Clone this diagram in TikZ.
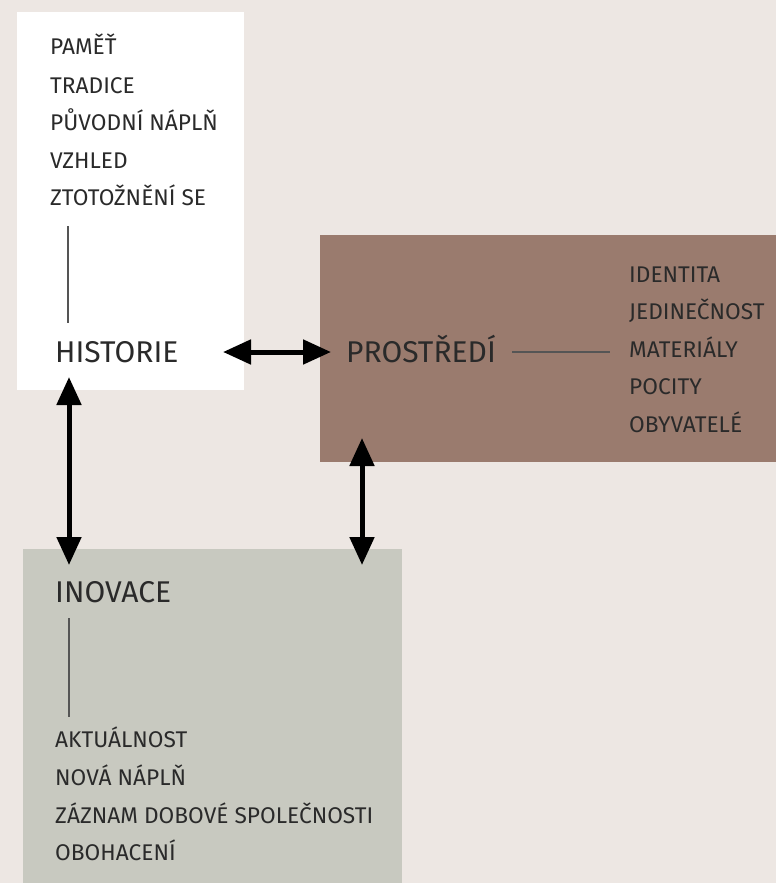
\documentclass[tikz,border=0pt]{standalone}
\usepackage{fontspec}
\setmainfont{Fira Sans}
\usetikzlibrary{arrows.meta}
\definecolor{bgc}{HTML}{EDE7E3}
\definecolor{brownc}{HTML}{9A7B6E}
\definecolor{greenc}{HTML}{C8C9C0}
\definecolor{txt}{HTML}{2A2A2A}
\tikzset{
  box/.style={draw=none,inner sep=0,anchor=north west},
  small/.style={anchor=base west,inner sep=0,text=txt,font=\fontsize{22.7}{22.7}\selectfont},
  big/.style={anchor=base west,inner sep=0,text=txt,font=\fontsize{30}{30}\selectfont},
  thin/.style={draw=txt!80,line width=1.2pt},
  dbl/.style={line width=5pt,{Triangle[length=28pt,width=24pt]}-{Triangle[length=28pt,width=24pt]}}
}
\begin{document}
\begin{tikzpicture}[x=1pt,y=-1pt]
\fill[bgc] (0,0) rectangle (776,883);
\useasboundingbox (0,0) rectangle (776,883);
% boxes
\node[box,fill=white,minimum width=227pt,minimum height=378pt] (hbox) at (17,12) {};
\node[box,fill=brownc,minimum width=456pt,minimum height=227pt] (pbox) at (320,235) {};
\node[box,fill=greenc,minimum width=379pt,minimum height=334pt] (ibox) at (23,549) {};
% history list
\node[small] (h1) at (50,55) {PAMĚŤ};
\node[small] (h2) at (50,93) {TRADICE};
\node[small] (h3) at (50,130) {PŮVODNÍ NÁPLŇ};
\node[small] (h4) at (50,168) {VZHLED};
\node[small] (h5) at (50,205) {ZTOTOŽNĚNÍ SE};
\node[big] (hist) at (55,362) {HISTORIE};
\coordinate (hl1) at (68,226);
\coordinate (hl2) at (68,323);
\draw[thin] (hl1) -- (hl2);
% prostredi
\node[big] (prost) at (346,362) {PROSTŘEDÍ};
\node[small] (p1) at (629,282) {IDENTITA};
\node[small] (p2) at (629,319) {JEDINEČNOST};
\node[small] (p3) at (629,357) {MATERIÁLY};
\node[small] (p4) at (629,394) {POCITY};
\node[small] (p5) at (629,432) {OBYVATELÉ};
\coordinate (pl1) at (512,352);
\coordinate (pl2) at (610,352);
\draw[thin] (pl1) -- (pl2);
% inovace
\node[big] (inov) at (55,602) {INOVACE};
\node[small] (i1) at (55,747) {AKTUÁLNOST};
\node[small] (i2) at (55,785) {NOVÁ NÁPLŇ};
\node[small] (i3) at (55,823) {ZÁZNAM DOBOVÉ SPOLEČNOSTI};
\node[small] (i4) at (55,860) {OBOHACENÍ};
\coordinate (il1) at (69,618);
\coordinate (il2) at (69,717);
\draw[thin] (il1) -- (il2);
% arrows
\coordinate (a1) at (223,352);
\coordinate (a2) at (331,352);
\draw[dbl] (a1) -- (a2);
\coordinate (b1) at (69,377);
\coordinate (b2) at (69,565);
\draw[dbl] (b1) -- (b2);
\coordinate (c1) at (362,438);
\coordinate (c2) at (362,565);
\draw[dbl] (c1) -- (c2);
\end{tikzpicture}
\end{document}
